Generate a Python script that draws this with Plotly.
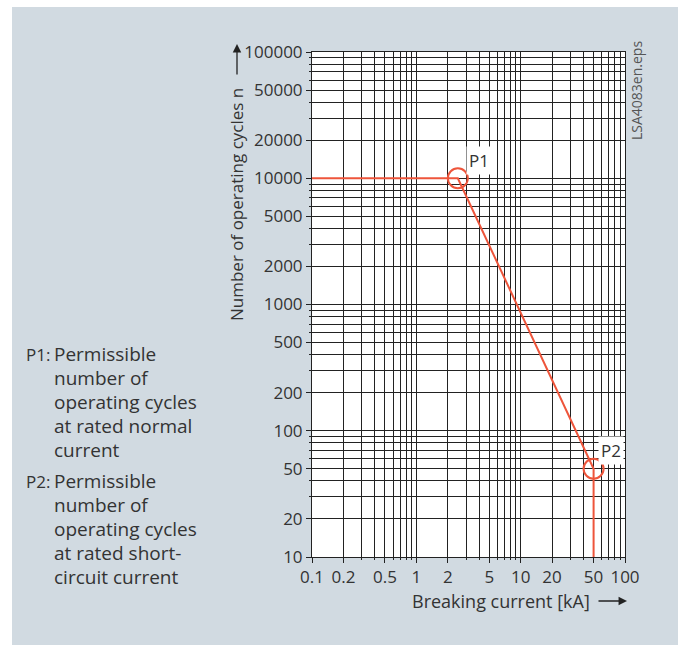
import math
import plotly.graph_objects as go

# Permissible operating cycles versus breaking current (log-log)
curve_current_ka = [0.1, 2.5, 50, 50]
curve_cycles = [10000, 10000, 50, 10]

point_names = ["P1", "P2"]
point_current_ka = [2.5, 50]
point_cycles = [10000, 50]

x_tick_vals = [0.1, 0.2, 0.5, 1, 2, 5, 10, 20, 50, 100]
x_tick_text = ["0.1", "0.2", "0.5", "1", "2", "5", "10", "20", "50", "100"]
y_tick_vals = [10, 20, 50, 100, 200, 500, 1000, 2000, 5000, 10000, 20000, 50000, 100000]
y_tick_text = ["10", "20", "50", "100", "200", "500", "1000", "2000", "5000",
               "10000", "20000", "50000", "100000"]

legend_p1 = ["P1:", "Permissible", "number of", "operating cycles", "at rated normal", "current"]
legend_p2 = ["P2:", "Permissible", "number of", "operating cycles", "at rated short-", "circuit current"]

x_title = "Breaking current [kA]"
y_title = "Number of operating cycles n"
file_tag = "LSA4083en.eps"

RED = "#EE553B"
GRID = "#222222"
TEXT = "#333333"
FONT = "Open Sans"
PANEL = "#D1DAE1"


def decade_grid(lo_exp, hi_exp, skip):
    vals = []
    for e in range(lo_exp, hi_exp):
        for k in range(1, 10):
            v = round(k * 10 ** e, 6)
            if v not in skip:
                vals.append(v)
    return vals


x_minor = decade_grid(-1, 2, x_tick_vals)
y_minor = decade_grid(1, 5, y_tick_vals)

W, H = 678, 645
L, R, T, B = 312, 53, 52, 88
pw, ph = W - L - R, H - T - B


def px(xp):
    return (xp - L) / pw


def py(yp):
    return (H - B - yp) / ph


fig = go.Figure()

fig.add_trace(go.Scatter(
    x=curve_current_ka, y=curve_cycles, mode="lines",
    line=dict(color=RED, width=2), hoverinfo="skip", showlegend=False))

fig.add_trace(go.Scatter(
    x=point_current_ka, y=point_cycles, mode="markers",
    marker=dict(symbol="circle-open", size=20, color=RED, line=dict(color=RED, width=2)),
    hoverinfo="skip", showlegend=False))

axis_common = dict(
    type="log", showline=True, linecolor=GRID, linewidth=1, mirror=True,
    showgrid=True, gridcolor=GRID, gridwidth=1, zeroline=False,
    ticks="outside", ticklen=5, tickcolor=GRID, tickwidth=1,
    tickfont=dict(family=FONT, size=17, color=TEXT),
)

fig.update_xaxes(
    range=[-1, 2], tickmode="array", tickvals=x_tick_vals, ticktext=x_tick_text,
    minor=dict(tickmode="array", tickvals=x_minor, showgrid=True, gridcolor=GRID,
               gridwidth=1, ticks="outside", ticklen=2, tickcolor=GRID),
    **axis_common)
fig.update_yaxes(
    range=[1, 5], tickmode="array", tickvals=y_tick_vals, ticktext=y_tick_text,
    minor=dict(tickmode="array", tickvals=y_minor, showgrid=True, gridcolor=GRID,
               gridwidth=1, ticks="outside", ticklen=2, tickcolor=GRID),
    **axis_common)

annotations = []

# point labels on white boxes (log axes take log10 positions)
for name, xv, yv, dx, dy in zip(point_names, point_current_ka, point_cycles, [21, 17], [18, 18]):
    annotations.append(dict(
        x=math.log10(xv), y=math.log10(yv), xref="x", yref="y",
        text=name, showarrow=False, xshift=dx, yshift=dy, xanchor="center",
        bgcolor="white", borderpad=2,
        font=dict(family=FONT, size=17, color=TEXT)))

# axis titles with arrows
annotations.append(dict(
    x=px(236), y=py(205), xref="paper", yref="paper", text=y_title, textangle=-90,
    showarrow=False, xanchor="center", yanchor="middle",
    font=dict(family=FONT, size=17, color=TEXT)))
annotations.append(dict(
    x=px(237), y=py(44), xref="paper", yref="paper", text="", showarrow=True,
    ax=0, ay=32, arrowhead=2, arrowsize=1.3, arrowwidth=1.3, arrowcolor="#222222"))
annotations.append(dict(
    x=px(501), y=py(601), xref="paper", yref="paper", text=x_title,
    showarrow=False, xanchor="center", yanchor="middle",
    font=dict(family=FONT, size=18, color=TEXT)))
annotations.append(dict(
    x=px(627), y=py(601), xref="paper", yref="paper", text="", showarrow=True,
    ax=-30, ay=0, arrowhead=2, arrowsize=1.3, arrowwidth=1.3, arrowcolor="#222222"))

# file tag
annotations.append(dict(
    x=px(637), y=py(91), xref="paper", yref="paper", text=file_tag, textangle=-90,
    showarrow=False, xanchor="center", yanchor="middle",
    font=dict(family=FONT, size=14, color="#555555")))

# explanatory notes
for lines, y0 in ((legend_p1, 354), (legend_p2, 481)):
    annotations.append(dict(
        x=px(24), y=py(y0), xref="paper", yref="paper", text=lines[0],
        showarrow=False, xanchor="left", yanchor="middle",
        font=dict(family=FONT, size=17, color=TEXT)))
    for i, line in enumerate(lines[1:]):
        annotations.append(dict(
            x=px(52), y=py(y0 + 24 * i), xref="paper", yref="paper", text=line,
            showarrow=False, xanchor="left", yanchor="middle",
            font=dict(family=FONT, size=19, color=TEXT)))

# white border strips around the grey panel
shapes = [
    dict(type="rect", xref="paper", yref="paper", x0=px(0), x1=px(12), y0=py(H), y1=py(0),
         fillcolor="white", line=dict(width=0), layer="below"),
    dict(type="rect", xref="paper", yref="paper", x0=px(0), x1=px(W), y0=py(7), y1=py(0),
         fillcolor="white", line=dict(width=0), layer="below"),
]

fig.update_layout(
    width=W, height=H, autosize=False,
    margin=dict(l=L, r=R, t=T, b=B, pad=0),
    paper_bgcolor=PANEL, plot_bgcolor="white",
    annotations=annotations, shapes=shapes, showlegend=False,
    font=dict(family=FONT, size=17, color=TEXT),
)

fig.write_html("out.html")
